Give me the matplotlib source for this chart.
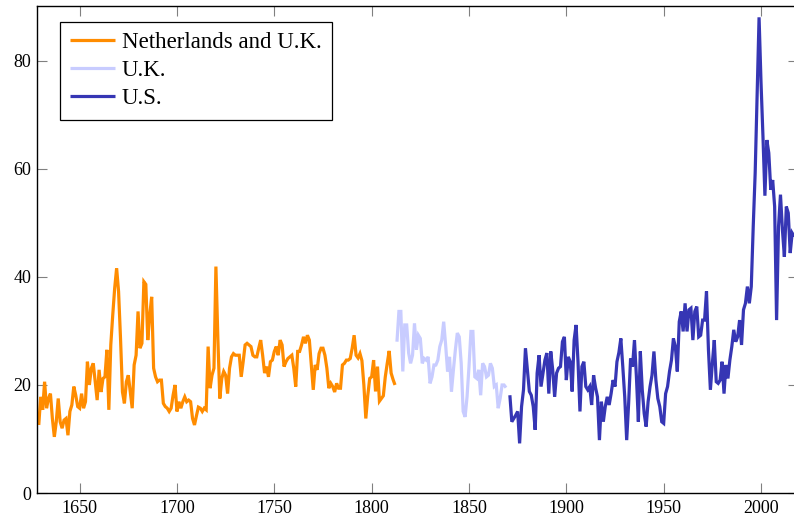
# *****************************************************************************

import numpy as np
import matplotlib
matplotlib.use('Agg')
import matplotlib.pyplot as plt

# *****************************************************************************

# Annual series, one value per year starting at the given year
NL_UK_START = 1629
NL_UK_VALS = [12.6, 17.8, 15.4, 20.6, 15.7, 17.5, 18.4, 13.8, 10.4, 13.2,
              17.5, 13.2, 12.0, 13.5, 13.8, 10.7, 15.1, 16.3, 19.7, 18.1,
              16.0, 15.7, 18.4, 15.7, 16.9, 24.3, 20.0, 23.1, 24.0, 20.6,
              17.2, 22.8, 18.7, 21.2, 21.5, 26.5, 15.4, 27.4, 32.9, 37.9,
              41.6, 37.3, 28.6, 18.7, 16.6, 20.6, 21.8, 18.7, 15.7, 23.7,
              25.5, 33.6, 26.8, 27.7, 39.1, 38.6, 28.3, 32.9, 36.3, 23.1,
              21.5, 20.6, 20.9, 20.9, 16.6, 16.0, 15.7, 15.1, 15.7, 18.1,
              20.0, 15.1, 16.9, 15.7, 16.9, 17.8, 16.9, 17.2, 16.9, 13.8,
              12.6, 14.3, 15.9, 15.7, 15.1, 15.7, 15.4, 27.1, 19.4, 21.8,
              23.1, 41.9, 28.6, 17.5, 21.2, 22.5, 21.8, 18.4, 23.1, 25.2,
              25.8, 25.5, 25.5, 25.5, 21.5, 24.3, 27.4, 27.7, 27.4, 27.1,
              25.5, 25.2, 25.2, 26.8, 28.3, 25.5, 22.2, 23.4, 21.5, 24.3,
              24.6, 26.2, 27.1, 25.5, 28.3, 27.4, 23.4, 24.3, 24.9, 25.2,
              25.5, 23.1, 19.7, 26.2, 26.2, 27.4, 28.9, 27.7, 29.2, 28.3,
              23.7, 19.1, 23.7, 22.8, 25.8, 26.8, 26.8, 25.5, 23.1, 19.4,
              20.3, 19.7, 18.7, 20.3, 19.4, 19.4, 23.7, 24.0, 24.6, 24.6,
              24.9, 26.8, 29.2, 25.5, 25.0, 25.8, 24.5, 20.0, 13.8, 18.0,
              21.2, 21.5, 24.6, 18.8, 23.4, 17.0, 17.5, 18.0, 21.5, 24.0,
              26.3, 22.2, 21.0, 20.0]

UK_START = 1813
UK_VALS = [28.0, 33.6, 33.6, 22.5, 31.1, 31.1, 25.9, 24.0, 25.5, 31.4,
           26.5, 29.2, 28.6, 24.0, 24.9, 24.6, 25.2, 20.3, 21.5, 23.7,
           23.7, 24.6, 27.1, 28.3, 31.7, 27.4, 22.5, 25.2, 18.8, 22.8,
           26.5, 29.6, 28.9, 24.0, 15.1, 14.1, 17.8, 23.4, 29.9, 29.9,
           21.5, 21.2, 22.8, 18.1, 24.0, 23.4, 21.5, 21.8, 24.0, 23.1,
           19.7, 20.0, 15.7, 17.5, 20.0, 20.0, 19.5]

US_START = 1871
US_VALS = [18.1, 13.2, 13.8, 14.4, 15.1, 9.2, 16.0, 19.1, 26.8, 22.8,
           18.8, 18.1, 16.0, 11.7, 22.2, 25.5, 19.7, 22.2, 24.6, 25.9,
           18.4, 26.2, 22.8, 17.8, 22.2, 23.1, 23.4, 28.0, 28.9, 20.9,
           25.2, 24.3, 18.8, 28.3, 31.1, 24.3, 15.1, 23.4, 24.3, 19.7,
           19.1, 19.7, 16.3, 21.8, 19.5, 17.8, 9.8, 16.9, 13.2, 16.0,
           17.8, 16.3, 18.4, 20.9, 19.7, 24.3, 26.0, 28.6, 23.4, 17.8,
           9.8, 16.6, 24.9, 23.4, 28.3, 21.5, 13.2, 26.2, 19.1, 14.7,
           12.3, 16.9, 19.7, 21.8, 26.2, 20.9, 17.5, 16.0, 13.2, 12.9,
           18.4, 19.7, 22.5, 24.6, 28.6, 27.1, 22.5, 31.7, 33.6, 29.9,
           35.1, 29.9, 33.9, 34.2, 28.3, 33.6, 34.5, 28.9, 29.2, 32.0,
           32.0, 37.3, 26.5, 19.1, 24.0, 28.3, 20.6, 20.3, 20.9, 24.3,
           18.4, 23.7, 21.2, 24.6, 27.1, 30.2, 28.0, 28.9, 32.0, 27.4,
           33.9, 35.1, 38.2, 35.1, 38.2, 49.3, 59.2, 74.0, 88.0, 76.0,
           66.0, 55.0, 65.3, 62.9, 56.1, 57.9, 53.0, 32.0, 49.3, 55.2,
           48.7, 43.7, 53.0, 51.8, 44.4, 48.1, 47.5]

SERIES_LABELS = ['Netherlands and U.K.', 'U.K.', 'U.S.']
SERIES_COLORS = ['#ff8c00', '#c8ccff', '#3636b4']

X_TICKS = [1650, 1700, 1750, 1800, 1850, 1900, 1950, 2000]
Y_TICKS = [0, 20, 40, 60, 80]

# *****************************************************************************


def make_fig():

    plt.rcParams['font.family'] = ['Liberation Serif', 'DejaVu Serif']

    fig01 = plt.figure(figsize=(7.94, 5.17), dpi=100)
    axs01 = fig01.add_axes([37/794, 23.9/517, 761/794, 486.6/517])

    starts = [NL_UK_START, UK_START, US_START]
    vals = [NL_UK_VALS, UK_VALS, US_VALS]

    for start, yvals, col, lab in zip(starts, vals, SERIES_COLORS,
                                      SERIES_LABELS):
        yrs = np.arange(start, start + len(yvals))
        axs01.plot(yrs, yvals, color=col, lw=2.3, label=lab,
                   solid_joinstyle='miter', solid_capstyle='butt')

    axs01.set_xlim(1628.1, 2019.0)
    axs01.set_ylim(0, 90)
    axs01.set_xticks(X_TICKS)
    axs01.set_yticks(Y_TICKS)

    axs01.tick_params(axis='both', which='major', direction='in',
                      length=7.5, width=0.8, color='#808080',
                      labelsize=13, top=True, right=True)
    axs01.tick_params(axis='x', pad=5)
    axs01.tick_params(axis='y', pad=4)

    for spn in axs01.spines.values():
        spn.set_linewidth(1.0)
        spn.set_color('black')

    # Legend box in the upper-left corner
    leg = axs01.legend(loc='upper left', bbox_to_anchor=(60/794, 1 - 22/517),
                       bbox_transform=fig01.transFigure, borderaxespad=0,
                       fontsize=16.5, handlelength=1.95, handletextpad=0.3,
                       borderpad=0.45, labelspacing=0.3, fancybox=False,
                       framealpha=1.0, edgecolor='black')
    leg.get_frame().set_linewidth(0.9)

    plt.savefig('out.png', dpi=100)
    plt.close()

    return None

# *****************************************************************************


if (__name__ == "__main__"):

    make_fig()

# *****************************************************************************
